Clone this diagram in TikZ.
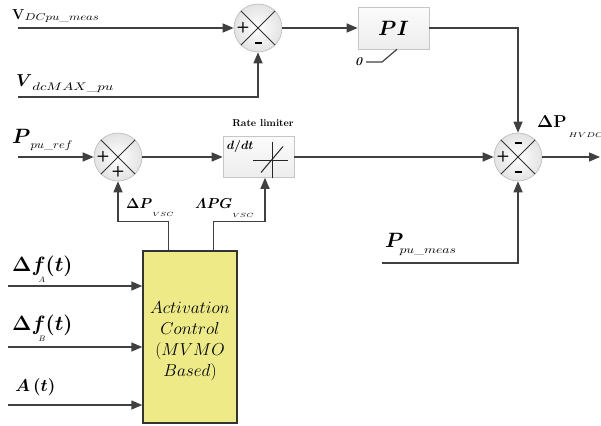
\documentclass[tikz,border=0pt]{standalone}
\usepackage{amsmath,bm,graphicx}
\usetikzlibrary{arrows.meta,calc}
\newcommand{\fsz}[1]{\fontsize{#1}{#1}\selectfont}
\newcommand{\wsub}[3]{\scalebox{#1}[1]{\fsz{#2}$#3$}}
\definecolor{wirec}{HTML}{404040}
\definecolor{acfill}{HTML}{EDEA87}
\tikzset{
 wire/.style={draw=wirec,line width=1.4pt},
 arr/.style={wire,-{Triangle[length=11pt,width=9pt]}},
 sumnode/.style={circle,minimum size=48pt,inner sep=0pt,draw=gray!55,line width=0.6pt,inner color=white,outer color=gray!22},
 xline/.style={draw=black!80,line width=0.8pt},
 blk/.style={rectangle,draw=gray!45,line width=0.6pt,top color=gray!3,bottom color=gray!14,inner sep=0pt},
 sgn/.style={inner sep=0pt,font=\sffamily\bfseries\fsz{15}},
 lbl/.style={inner sep=0pt,anchor=base west},
 symline/.style={draw=black!85,line width=1pt},
}
\begin{document}
\begin{tikzpicture}[x=1pt,y=-1pt]
\useasboundingbox (0,0) rectangle (601,425);
% summing junctions
\node[sumnode] (s1) at (258,28) {};
\node[sumnode] (s3) at (118,157) {};
\node[sumnode] (s2) at (518,157) {};
\foreach \s in {s1,s2,s3}{
  \draw[xline] (\s.north east) -- (\s.south west);
  \draw[xline] (\s.north west) -- (\s.south east);
}
\node[sgn] (s1p) at ($(s1)+(-15,0)$) {+};
\node[sgn] (s1m) at ($(s1)+(0,15)$) {\rule{7pt}{2pt}};
\node[sgn] (s3p) at ($(s3)+(-15,0)$) {+};
\node[sgn] (s3q) at ($(s3)+(0,15)$) {+};
\node[sgn] (s2p) at ($(s2)+(-15,0)$) {+};
\node[sgn] (s2m) at ($(s2)+(0,-14)$) {\rule{7pt}{2pt}};
\node[sgn] (s2n) at ($(s2)+(0,15)$) {\rule{7pt}{2pt}};
% blocks
\node[blk,minimum width=71pt,minimum height=42pt] (PI) at (393.5,28) {\fsz{20}$\bm{PI}$};
\node[blk,minimum width=71pt,minimum height=41pt] (RL) at (258.5,157) {};
\node[font=\bfseries\fsz{10}] (RLt) at (263,123) {Rate limiter};
\node[anchor=north west,inner sep=0pt] (ddt) at ($(RL.north west)+(4,4)$) {\fsz{13}$\bm{d/dt}$};
\draw[symline] ($(RL.center)+(-5.5,3)$) -- ($(RL.center)+(29.5,3)$);
\draw[symline] ($(RL.center)+(13.5,-15.5)$) -- ($(RL.center)+(13.5,20.5)$);
\draw[symline] ($(RL.center)+(2.5,15.5)$) -- ($(RL.center)+(24.5,-10.5)$);
\node[rectangle,draw=black!80,line width=1.4pt,fill=acfill,minimum width=94pt,minimum height=172pt,inner sep=0pt] (AC) at (190,337) {};
\node[align=center,inner sep=0pt,font=\fontsize{17}{21}\selectfont] (ACt) at (190,341) {$Activation$\\ $Control$\\ $(MVMO$\\ $Based)$};
% wires
\coordinate (inV) at (18,28);
\draw[arr] (inV) -- (s1);
\coordinate (inVmax) at (18,97);
\draw[arr] (inVmax) -| (s1.south);
\draw[arr] (s1) -- (PI);
\draw[arr] (PI) -| (s2.north);
\coordinate (inPref) at (18,157);
\draw[arr] (inPref) -- (s3);
\draw[arr] (s3) -- (RL);
\draw[arr] (RL) -- (s2);
\coordinate (out) at (600,157);
\draw[arr] (s2) -- (out);
\coordinate (inPmeas) at (382,263);
\draw[arr] (inPmeas) -| (s2.south);
\coordinate (o1) at ($(AC.north west)!0.277!(AC.north east)$);
\coordinate (o2) at ($(AC.north west)!0.745!(AC.north east)$);
\draw[arr] (o1) -- ++(0,-29) -| (s3.south);
\draw[arr] (o2) -- ++(0,-29) -| ([xshift=6.5pt]RL.south);
\coordinate (i1) at (8,286);
\coordinate (i2) at (8,347);
\coordinate (i3) at (8,405);
\draw[arr] (i1) -- (i1 -| AC.west);
\draw[arr] (i2) -- (i2 -| AC.west);
\draw[arr] (i3) -- (i3 -| AC.west);
% PI lower limit
\node[inner sep=0pt] (zero) at (359,62) {\fsz{12}\textbf{\textit{0}}};
\coordinate (z0) at (366,62);
\draw[wire,line width=1.2pt] (z0) -- ++(16,0) -- ([xshift=3.5pt]PI.south);
% labels
\node[lbl] (lV) at (12,20) {\fsz{15.5}$\mathbf{V}$\raisebox{-1pt}{\wsub{1.28}{10}{DCpu\_meas}}};
\node[lbl] (lVm) at (16,87) {\fsz{17}$\bm{V}$\raisebox{-4pt}{\wsub{1.35}{10.5}{dcMAX\_pu}}};
\node[lbl] (lPr) at (12,143) {\fsz{20}$\bm{P}$\raisebox{-5pt}{\wsub{1.15}{10.5}{pu\_ref}}};
\node[lbl] (lPm) at (385,247) {\fsz{20}$\bm{P}$\kern-4pt\raisebox{-6pt}{\wsub{1.25}{10.5}{pu\_meas}}};
\node[lbl] (lDH) at (537,127) {\fsz{17.28}$\mathbf{\Delta P}$\kern2pt\raisebox{-10pt}{\wsub{1.3}{7}{HVDC}}};
\node[lbl] (lDV) at (126,208) {\fsz{14.5}$\bm{\Delta P}$\raisebox{-8pt}{\wsub{1.3}{6.5}{VSC}}};
\node[lbl] (lAV) at (195,208) {\fsz{14.5}$\bm{\varLambda PG}$\raisebox{-9pt}{\wsub{1.3}{6.5}{VSC}}};
\node[lbl] (lfA) at (12,271) {\fsz{20}$\bm{\Delta f}$\kern-7pt\rlap{\raisebox{-11pt}{\fsz{8}$A$}}\kern7pt$\bm{(t)}$};
\node[lbl] (lfB) at (12,330) {\fsz{20}$\bm{\Delta f}$\kern-7pt\rlap{\raisebox{-11pt}{\fsz{8}$B$}}\kern7pt$\bm{(t)}$};
\node[lbl] (lAt) at (15,391) {\fsz{17}$\bm{A\,(t)}$};
\end{tikzpicture}
\end{document}
